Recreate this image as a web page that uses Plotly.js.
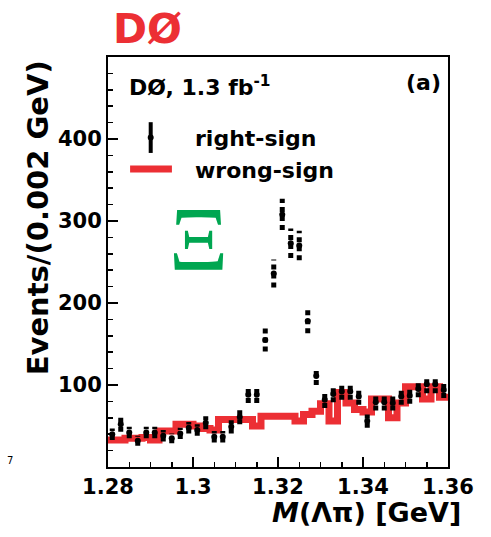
<!DOCTYPE html>
<html>
<head>
<meta charset="utf-8">
<script src="https://cdn.plot.ly/plotly-3.0.1.min.js"></script>
<style>
  html, body { margin: 0; padding: 0; background: #fff; }
  #chart { width: 491px; height: 537px; }
</style>
</head>
<body>
<div id="chart"></div>
<script>
// Invariant-mass bins: 0.002 GeV wide, centres from 1.281 to 1.359 GeV
const binCenters = [
  1.281, 1.283, 1.285, 1.287, 1.289, 1.291, 1.293, 1.295, 1.297, 1.299,
  1.301, 1.303, 1.305, 1.307, 1.309, 1.311, 1.313, 1.315, 1.317, 1.319,
  1.321, 1.323, 1.325, 1.327, 1.329, 1.331, 1.333, 1.335, 1.337, 1.339,
  1.341, 1.343, 1.345, 1.347, 1.349, 1.351, 1.353, 1.355, 1.357, 1.359
];
const binWidth = 0.002;

// Right-sign candidates (events per bin) and their uncertainties
const rightSign = [
  40, 52, 42, 32, 42, 42, 38, 35, 41, 48,
  45, 54, 37, 37, 49, 61, 88, 88, 155, 236,
  308, 273, 270, 178, 111, 82, 89, 92, 92, 86,
  56, 79, 79, 78, 86, 87, 95, 101, 101, 94
];
const rightSignErr = [
  7, 9, 7, 6, 7, 7, 7, 6, 7, 7,
  7, 8, 7, 7, 8, 9, 10, 10, 14, 17,
  19, 18, 18, 15, 11, 10, 10, 10, 10, 10,
  8, 10, 10, 9, 10, 10, 10, 11, 11, 10
];

// Wrong-sign candidates (events per bin)
const wrongSign = [
  33, 33, 35, 35, 36, 33, 44, 44, 52, 52,
  50, 47, 45, 58, 58, 58, 58, 50, 62, 62,
  62, 62, 56, 64, 68, 77, 56, 91, 78, 70,
  67, 83, 83, 60, 78, 98, 98, 83, 98, 85
];

// Axis ticks
const xTickVals = [1.28, 1.30, 1.32, 1.34, 1.36];
const xTickText = ['1.28', '1.3', '1.32', '1.34', '1.36'];
const yTickVals = [100, 200, 300, 400];
const yTickText = ['100', '200', '300', '400'];

// Step outline for the wrong-sign histogram: left edge of every bin plus the last right edge
const stepX = binCenters.map(c => c - binWidth / 2).concat([binCenters[binCenters.length - 1] + binWidth / 2]);
const stepY = wrongSign.concat([wrongSign[wrongSign.length - 1]]);

// Vertical error segments for the right-sign points
const errX = [], errY = [];
binCenters.forEach((c, i) => {
  errX.push(c, c, null);
  errY.push(rightSign[i] - rightSignErr[i], rightSign[i] + rightSignErr[i], null);
});

const RED = '#ec2f34';
const GREEN = '#00a651';
const FONT = 'DejaVu Sans, Liberation Sans, Arial, sans-serif';

const traces = [
  {
    type: 'scatter', mode: 'lines', x: stepX, y: stepY,
    line: { shape: 'hv', color: RED, width: 7 },
    hoverinfo: 'skip', name: 'wrong-sign'
  },
  {
    type: 'scatter', mode: 'lines', x: errX, y: errY,
    line: { color: '#000', width: 5, dash: '5px,4px' },
    connectgaps: false, hoverinfo: 'skip', name: 'errors'
  },
  {
    type: 'scatter', mode: 'markers', x: binCenters, y: rightSign,
    marker: { color: '#000', size: 6, symbol: 'circle' },
    name: 'right-sign'
  }
];

const axisCommon = {
  showline: true, linecolor: '#000', linewidth: 2, mirror: true,
  ticks: 'inside', ticklen: 10, tickwidth: 1.5, tickcolor: '#000',
  showgrid: false, zeroline: false,
  tickfont: { family: FONT, size: 21, color: '#000', weight: 'bold' }
};

const layout = {
  width: 491, height: 537,
  margin: { l: 108, r: 43, t: 57, b: 70 },
  paper_bgcolor: '#fff', plot_bgcolor: '#fff',
  showlegend: false,
  xaxis: Object.assign({}, axisCommon, {
    range: [1.28, 1.36], tickmode: 'array', tickvals: xTickVals, ticktext: xTickText,
    minor: { dtick: 0.005, tick0: 1.28, ticks: 'inside', ticklen: 5, tickwidth: 1.5, tickcolor: '#000', showgrid: false }
  }),
  yaxis: Object.assign({}, axisCommon, {
    range: [0, 500], tickmode: 'array', tickvals: yTickVals, ticktext: yTickText,
    minor: { dtick: 20, tick0: 0, ticks: 'inside', ticklen: 5, tickwidth: 1.5, tickcolor: '#000', showgrid: false }
  }),
  shapes: [
    // legend key: right-sign point with error bar
    { type: 'line', xref: 'paper', yref: 'paper', x0: 0.1256, x1: 0.1256, y0: 0.766, y1: 0.841,
      line: { color: '#000', width: 4 } },
    { type: 'circle', xref: 'paper', yref: 'paper', x0: 0.1256 - 0.0088, x1: 0.1256 + 0.0088,
      y0: 0.8035 - 0.0073, y1: 0.8035 + 0.0073, fillcolor: '#000', line: { width: 0 } },
    // legend key: wrong-sign line
    { type: 'line', xref: 'paper', yref: 'paper', x0: 0.065, x1: 0.188, y0: 0.727, y1: 0.727,
      line: { color: RED, width: 7 } }
  ],
  annotations: [
    { text: 'DØ', xref: 'paper', yref: 'paper', x: 0.115, y: 1.068, xanchor: 'center', yanchor: 'middle',
      showarrow: false, font: { family: FONT, size: 41, color: RED, weight: 'bold' } },
    { text: 'DØ, 1.3 fb<sup>-1</sup>', xref: 'paper', yref: 'paper', x: 0.056, y: 0.93, xanchor: 'left', yanchor: 'middle',
      showarrow: false, font: { family: FONT, size: 22, color: '#000', weight: 'bold' } },
    { text: '(a)', xref: 'paper', yref: 'paper', x: 0.985, y: 0.937, xanchor: 'right', yanchor: 'middle',
      showarrow: false, font: { family: FONT, size: 22, color: '#000', weight: 'bold' } },
    { text: 'right-sign', xref: 'paper', yref: 'paper', x: 0.25, y: 0.802, xanchor: 'left', yanchor: 'middle',
      showarrow: false, font: { family: FONT, size: 22, color: '#000', weight: 'bold' } },
    { text: 'wrong-sign', xref: 'paper', yref: 'paper', x: 0.25, y: 0.724, xanchor: 'left', yanchor: 'middle',
      showarrow: false, font: { family: FONT, size: 22, color: '#000', weight: 'bold' } },
    { text: 'Ξ', xref: 'paper', yref: 'paper', x: 0.265, y: 0.555, xanchor: 'center', yanchor: 'middle',
      showarrow: false, font: { family: 'Liberation Serif, DejaVu Serif, serif', size: 92, color: GREEN } },
    { text: 'Events/(0.002 GeV)', xref: 'paper', yref: 'paper', x: -0.206, y: 0.998, xanchor: 'center', yanchor: 'top',
      textangle: -90, showarrow: false, font: { family: FONT, size: 29, color: '#000', weight: 'bold' } },
    { text: '<i>M</i>(Λπ) [GeV]', xref: 'paper', yref: 'paper', x: 1.044, y: -0.11, xanchor: 'right', yanchor: 'middle',
      showarrow: false, font: { family: FONT, size: 27, color: '#000', weight: 'bold' } },
    { text: '7', xref: 'paper', yref: 'paper', x: -0.288, y: 0.015, xanchor: 'center', yanchor: 'middle',
      showarrow: false, font: { family: FONT, size: 10, color: '#000' } }
  ]
};

Plotly.newPlot('chart', traces, layout, { staticPlot: true, displayModeBar: false });
</script>
</body>
</html>
